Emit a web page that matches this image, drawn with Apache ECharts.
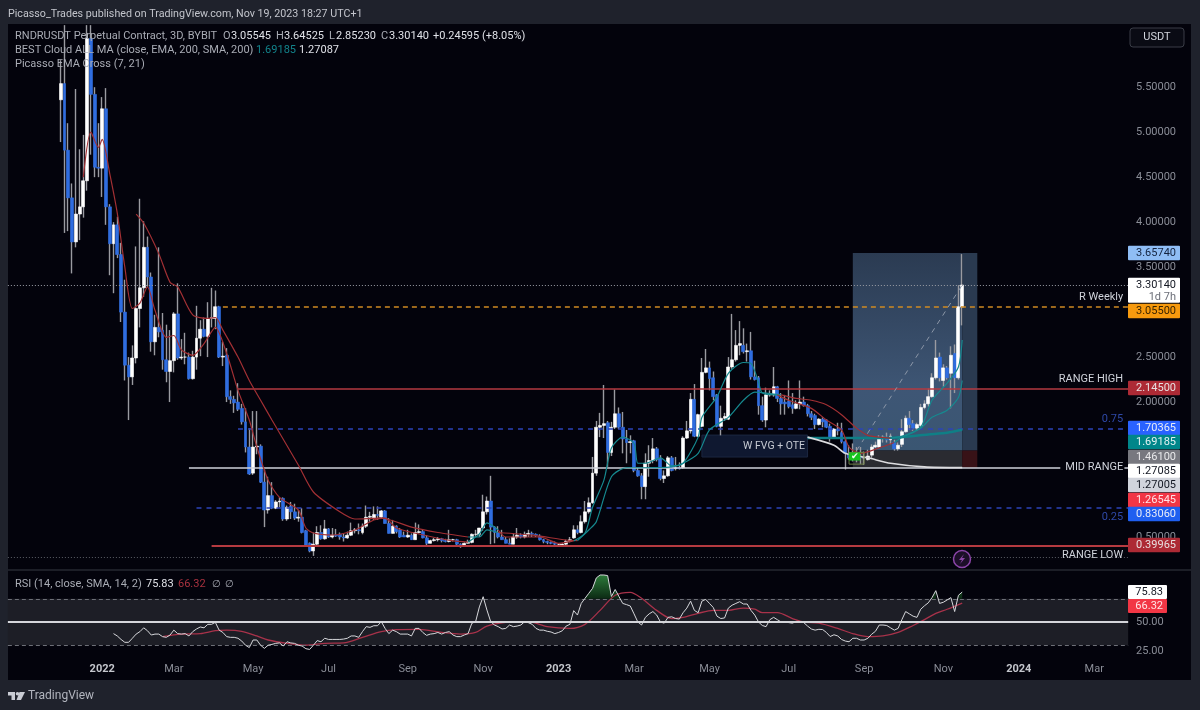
<!DOCTYPE html>
<html>
<head>
<meta charset="utf-8">
<title>RNDRUSDT 3D</title>
<script src="https://cdn.jsdelivr.net/npm/echarts@6/dist/echarts.min.js"></script>
<style>
  html, body { margin: 0; padding: 0; background: #1f222c; }
  #container { width: 1200px; height: 710px; }
</style>
</head>
<body>
<div id="container"></div>
<script>
// 3D candles, newest bar opened 2023-11-18. [open, close, low, high]
var candles = [
  [5.36,5.54,4.89,5.80],[5.54,4.80,3.88,6.19],[4.80,4.27,3.90,5.10],[4.27,3.78,3.43,4.43],[3.78,4.09,3.72,5.48],
  [4.09,4.17,3.80,4.81],[4.17,4.46,4.05,4.97],[4.46,6.04,4.35,6.19],[6.04,5.42,4.75,6.19],[5.42,4.61,4.50,5.50],
  [4.61,4.60,4.50,5.10],[4.60,5.26,4.28,5.39],[5.26,4.17,3.97,5.49],[4.17,3.76,3.41,4.20],[3.76,3.97,3.21,4.00],
  [3.97,3.64,3.60,4.06],[3.64,3.00,2.89,3.77],[3.00,2.41,2.24,3.36],[2.41,2.28,1.80,2.50],[2.28,2.49,2.19,2.63],
  [2.49,3.04,2.43,3.73],[3.04,3.27,2.83,4.26],[3.27,3.72,3.17,4.01],[3.72,3.39,3.28,3.84],[3.39,2.67,2.56,3.44],
  [2.67,2.83,2.52,2.97],[2.83,2.78,2.72,3.72],[2.80,2.47,2.36,2.99],[2.47,2.34,2.22,2.86],[2.34,2.46,2.00,2.80],
  [2.46,2.98,2.33,3.00],[2.98,2.49,2.47,3.32],[2.49,2.50,2.47,2.70],[2.50,2.50,2.42,2.77],[2.50,2.26,2.25,2.55],
  [2.26,2.50,2.25,2.57],[2.50,2.71,2.36,3.07],[2.71,2.81,2.51,2.91],[2.81,2.73,2.72,2.94],[2.73,2.93,2.50,3.11],
  [2.93,2.94,2.83,3.27],[2.93,3.06,2.81,3.24],[3.06,2.50,2.49,3.07],[2.50,2.51,2.40,2.67],[2.52,2.06,2.00,2.60],
  [2.06,2.03,1.98,2.13],[2.03,1.99,1.88,2.07],[2.00,1.92,1.90,2.21],[1.93,1.78,1.75,1.98],[1.78,1.50,1.44,1.93],
  [1.50,1.20,1.19,1.71],[1.21,1.50,1.19,1.90],[1.50,1.51,1.42,1.90],[1.51,1.11,1.10,1.53],[1.11,0.80,0.61,1.25],
  [0.80,0.96,0.76,1.17],[0.96,0.82,0.81,1.11],[0.82,0.89,0.81,0.91],[0.89,0.90,0.83,0.94],[0.93,0.70,0.68,0.94],
  [0.70,0.83,0.68,0.85],[0.84,0.78,0.70,0.89],[0.78,0.71,0.69,0.87],[0.71,0.72,0.67,0.80],[0.72,0.55,0.54,0.82],
  [0.57,0.40,0.39,0.58],[0.43,0.345,0.33,0.44],[0.345,0.42,0.29,0.55],[0.42,0.55,0.41,0.62],[0.55,0.48,0.47,0.63],
  [0.48,0.59,0.47,0.69],[0.59,0.50,0.49,0.60],[0.50,0.52,0.485,0.60],[0.52,0.51,0.50,0.59],[0.53,0.50,0.47,0.55],
  [0.50,0.49,0.45,0.54],[0.49,0.52,0.48,0.56],[0.52,0.57,0.51,0.66],[0.57,0.58,0.54,0.60],[0.58,0.57,0.53,0.65],
  [0.55,0.62,0.53,0.65],[0.62,0.72,0.60,0.85],[0.72,0.73,0.67,0.78],[0.71,0.75,0.69,0.84],[0.75,0.74,0.69,0.84],
  [0.72,0.79,0.71,0.80],[0.79,0.65,0.65,0.80],[0.65,0.54,0.54,0.71],[0.54,0.62,0.54,0.69],[0.62,0.56,0.54,0.63],
  [0.58,0.50,0.49,0.60],[0.52,0.50,0.50,0.56],[0.50,0.52,0.49,0.58],[0.52,0.47,0.467,0.54],[0.47,0.55,0.467,0.66],
  [0.55,0.56,0.54,0.64],[0.56,0.49,0.485,0.58],[0.49,0.43,0.40,0.52],[0.43,0.46,0.43,0.47],[0.46,0.47,0.45,0.49],
  [0.47,0.48,0.45,0.50],[0.48,0.46,0.44,0.49],[0.46,0.45,0.44,0.48],[0.45,0.47,0.44,0.58],[0.47,0.47,0.45,0.48],
  [0.47,0.42,0.41,0.48],[0.42,0.41,0.38,0.43],[0.41,0.43,0.41,0.44],[0.43,0.44,0.43,0.47],[0.44,0.53,0.43,0.54],
  [0.53,0.53,0.50,0.58],[0.53,0.60,0.50,0.60],[0.60,0.78,0.57,0.97],[0.78,0.90,0.75,0.95],[0.90,0.61,0.42,1.18],
  [0.61,0.55,0.43,0.62],[0.55,0.50,0.485,0.62],[0.50,0.47,0.47,0.58],[0.47,0.43,0.43,0.50],[0.43,0.42,0.42,0.485],
  [0.42,0.50,0.42,0.54],[0.50,0.52,0.48,0.60],[0.52,0.50,0.485,0.54],[0.50,0.53,0.485,0.56],[0.53,0.54,0.50,0.58],
  [0.54,0.53,0.50,0.56],[0.53,0.52,0.50,0.54],[0.51,0.47,0.46,0.53],[0.47,0.45,0.43,0.48],[0.45,0.44,0.42,0.46],
  [0.44,0.43,0.42,0.45],[0.43,0.42,0.41,0.45],[0.42,0.42,0.41,0.43],[0.41,0.42,0.40,0.43],[0.42,0.45,0.41,0.47],
  [0.45,0.47,0.44,0.50],[0.49,0.58,0.48,0.63],[0.58,0.55,0.53,0.63],[0.55,0.67,0.54,0.74],[0.67,0.78,0.65,0.90],
  [0.78,0.88,0.76,0.94],[0.88,1.21,0.87,1.39],[1.21,1.72,1.18,1.79],[1.72,1.74,1.61,1.88],[1.74,1.76,1.60,2.19],
  [1.77,1.44,1.28,1.79],[1.44,1.72,1.40,1.78],[1.72,1.87,1.70,2.14],[1.87,1.72,1.70,1.94],[1.72,1.59,1.43,1.89],
  [1.59,1.55,1.32,1.69],[1.55,1.56,1.43,1.63],[1.57,1.24,1.22,1.58],[1.24,1.18,1.17,1.27],[1.18,1.06,0.92,1.21],
  [1.06,1.32,0.92,1.43],[1.32,1.35,1.17,1.52],[1.35,1.48,1.32,1.60],[1.48,1.36,1.34,1.50],[1.37,1.15,1.13,1.41],
  [1.15,1.18,1.10,1.24],[1.18,1.38,1.17,1.40],[1.38,1.24,1.23,1.40],[1.26,1.27,1.24,1.39],[1.27,1.26,1.25,1.33],
  [1.27,1.60,1.26,1.62],[1.60,1.68,1.59,1.79],[1.68,2.03,1.65,2.10],[2.03,1.62,1.61,2.20],[1.62,1.86,1.61,1.87],
  [1.73,2.33,1.72,2.49],[2.33,2.38,2.32,2.59],[2.38,2.26,2.13,2.45],[2.27,2.06,2.02,2.34],[2.08,1.73,1.72,2.09],
  [1.73,1.82,1.63,1.96],[1.82,1.84,1.79,1.88],[1.81,2.39,1.80,2.50],[2.39,2.47,2.37,2.98],[2.47,2.63,2.45,2.80],
  [2.63,2.65,2.52,2.90],[2.63,2.56,2.54,2.82],[2.56,2.57,2.45,2.65],[2.57,2.28,2.25,2.78],[2.28,2.25,2.24,2.46],
  [2.27,1.96,1.86,2.29],[1.96,1.80,1.78,2.06],[1.80,2.08,1.72,2.16],[2.08,2.09,2.06,2.13],[2.08,2.17,2.06,2.39],
  [2.17,2.04,2.00,2.18],[2.04,1.98,1.86,2.10],[2.00,1.98,1.86,2.08],[2.01,1.95,1.93,2.24],[1.97,1.93,1.87,2.10],
  [1.93,1.98,1.92,2.02],[1.98,2.00,1.92,2.24],[2.00,1.96,1.95,2.06],[1.96,1.87,1.84,1.98],[1.87,1.83,1.80,1.90],
  [1.85,1.75,1.70,1.87],[1.75,1.81,1.74,1.82],[1.81,1.78,1.72,1.83],[1.80,1.72,1.71,1.81],[1.73,1.61,1.56,1.76],
  [1.61,1.70,1.59,1.71],[1.70,1.68,1.63,1.77],[1.66,1.56,1.54,1.77],[1.56,1.43,1.25,1.61],
  [1.43,1.38,1.36,1.52],[1.38,1.42,1.34,1.54],[1.42,1.40,1.33,1.50],[1.40,1.38,1.31,1.50],[1.38,1.38,1.30,1.45],
  [1.36,1.40,1.35,1.47],[1.41,1.50,1.38,1.53],[1.50,1.52,1.49,1.56],[1.50,1.60,1.49,1.63],[1.60,1.61,1.55,1.63],
  [1.61,1.58,1.55,1.66],[1.58,1.62,1.53,1.65],[1.55,1.48,1.46,1.58],[1.48,1.52,1.46,1.55],[1.53,1.67,1.50,1.81],
  [1.67,1.82,1.66,1.85],[1.82,1.75,1.69,1.90],[1.76,1.71,1.68,1.80],[1.71,1.75,1.69,1.77],[1.74,1.94,1.71,1.98],
  [1.94,1.98,1.92,2.02],[1.98,2.06,1.95,2.15],[2.06,2.27,2.05,2.32],[2.27,2.49,2.25,2.69],[2.50,2.27,2.23,2.55],
  [2.24,2.38,2.17,2.42],[2.38,2.27,2.25,2.40],[2.32,2.52,1.93,2.62],[2.54,2.27,2.10,2.64],[2.27,3.06,2.25,3.30],
  [3.05545,3.3014,2.8523,3.64525]
];

// RSI(14) from candle 14 on
var rsiStart = 14;
var rsiValues = [
  40,38,35,32.5,32.5,36,39.6,41.7,45,42.5,38.8,39.6,39.6,37.4,36.8,38.8,43,40,39.6,40,
  38,41.7,44,45.7,45,48,48,49.7,43,41,37.4,36.8,36.8,36,33.6,30,28,34.5,34.5,30,
  27.3,30,30.7,31.6,32,29.3,33,32,31.6,30,29.3,27,26.4,30,34,33,36,35,35,35,
  35,35.3,36,38,38,36.8,41.7,46,45.4,46.8,46.8,50.3,44.5,40,43,41.7,39.6,39.6,39.6,38,
  44.5,44.5,41,38.5,39.6,40,41,39.6,41,41.7,38.8,37.4,37.4,38.8,40,48.9,50.3,63,71.8,60.3,
  50.3,47.4,46,44,44.5,47.4,46,46.5,47.4,50.3,49.4,48,44.5,43,43,42,41.4,40,41,42.5,
  46.5,48,59.8,56,66,70.4,74.7,79,88,90.5,90.5,90,72,78,72,66,65,63.8,57,50,
  47.4,54,57,59,56,50,49,54,54.5,53,52.5,58,62,68,60,58,68,69.5,66,62.5,
  55,53,53.5,62,64.5,66,67.5,65.5,65.5,60,56,50,47,46,52,54,52,50,50,49.5,
  49,50.5,50.5,49.5,46.5,44,43,43.7,43.5,41,37.5,39,38,35,33.6,33,36,36,34.5,34.5,
  36,39.5,42,47.4,47.4,47,45,43,44.5,52,59,57,55,54,61,64,66.5,71,77,66,
  67,69,71,59,73,75.83
];
var rsiMaPoints = [
  [27,37.4],[32,39.6],[37,40],[41,42.5],[44,43],[48,42],[52,38],[55,34.5],[60,31.6],[65,30],[70,31.6],[75,32],
  [80,36.8],[85,41.7],[89,43.4],[95,43.7],[101,41],[106,39.6],[110,41],[113,46.5],[118,49.7],[124,50.3],[129,46],
  [135,44.5],[139,48],[143,60],[147,73],[151,75.6],[154,70.4],[158,60],[162,53],[165,54],[169,57.5],[173,60],
  [177,60],[181,62],[184,61],[186,58],[190,58],[194,53],[197,50],[201,49],[206,44.5],[210,40],[214,37.4],
  [218,38],[222,41],[226,47],[229,52],[232,57.5],[235,61],[239,66.32]
];

// moving averages as [candle, price], red while bearish, teal while bullish
var ema21Bear1 = [[20,4.09],[22,3.99],[26,3.65],[29,3.33],[31,3.28],[35,2.97],[39,2.93],[41,2.94],[43,2.8],[47,2.5],[50,2.24],[53,2.02],[56,1.8],[63,1.3],[67,1.0],[74,0.78],[78,0.7],[85,0.71],[93,0.61],[100,0.55],[108,0.5]];
var ema21Bull1 = [[108,0.5],[111,0.5],[113,0.58],[116,0.55]];
var ema21Bear2 = [[116,0.55],[125,0.52],[134,0.467],[137,0.46]];
var ema21Bull2 = [[137,0.46],[140,0.578],[142,0.67],[146,1.17],[150,1.27],[154,1.27],[162,1.28],[165,1.32],[169,1.43],[172,1.69],[177,1.83],[181,2.02],[184,2.11],[187,2.1],[191,2.08]];
var ema21Bear3 = [[191,2.08],[195,2.04],[199,2.02],[203,1.97],[207,1.86],[211,1.71],[214,1.63],[217,1.61],[220,1.6]];
var ema21Bull3 = [[220,1.6],[224,1.63],[228,1.71],[231,1.83],[235,1.91],[238,2.05],[239,2.24]];
var ema7Bear1 = [[6,4.5],[8,5.0],[10,4.83],[11,4.92],[13,4.54],[15,4.1],[17,3.5],[19,3.04],[21,3.1],[23,3.28],[25,3.02],[28,2.72],[30,2.74],[32,2.58],[35,2.52],[38,2.65],[41,2.83],[44,2.54],[47,2.13],[50,1.8],[52,1.5],[55,1.13],[58,0.94],[63,0.8],[65,0.6],[67,0.544],[72,0.522],[78,0.578],[83,0.689],[86,0.71],[89,0.6],[95,0.533],[104,0.456],[108,0.444]];
var ema7Bull1 = [[108,0.444],[111,0.533],[113,0.656],[116,0.578]];
var ema7Bear2 = [[116,0.578],[118,0.5],[127,0.5],[132,0.43],[136,0.456]];
var ema7Bull2 = [[136,0.456],[139,0.544],[141,0.83],[144,1.13],[146,1.49],[149,1.61],[152,1.54],[153,1.32],[155,1.32],[159,1.38],[162,1.29],[165,1.32],[169,1.61],[170,1.83],[174,2.06],[177,2.32],[181,2.44],[183,2.43],[185,2.22],[186,2.1],[190,2.08]];
var ema7Bear3 = [[190,2.08],[193,2.02],[199,1.93],[203,1.8],[207,1.69],[209,1.5],[212,1.43],[217,1.49],[221,1.55]];
var ema7Bull3 = [[221,1.55],[223,1.61],[228,1.72],[231,2.02],[235,2.21],[238,2.39],[239,2.69]];
var ema200Points = [[198,1.6],[205,1.6],[215,1.6],[223,1.61],[230,1.64],[235,1.66],[239,1.69185]];
var sma200Points = [[198,1.61],[205,1.52],[208,1.43],[214,1.38],[220,1.32],[229,1.28],[239,1.27087]];

// horizontal levels, first axis slot each one starts at
var levelNames = ['R Weekly', 'RANGE HIGH', '0.75', 'MID RANGE', '0.25', 'RANGE LOW'];
var levelValues = [3.055, 2.145, 1.70365, 1.27085, 0.8306, 0.39965];
var levelStarts = [57, 61, 61, 48, 50, 54];

var priceTicks = [0.5, 2, 2.5, 3.5, 4, 4.5, 5, 5.5];
var rsiTicks = [25, 50];
var priceTags = ['3.65740', '3.30140', '3.05500', '2.14500', '1.70365', '1.69185', '1.46100', '1.27085', '1.27005', '1.26545', '0.83060', '0.39965'];
var priceTagFills = ['#8fbdf5', '#ffffff', '#f79a0e', '#ad2a35', '#2962ff', '#00868a', '#77787f', '#ffffff', '#d1d4dc', '#f23645', '#1f5ff0', '#ad2a35'];
var priceTagInks = ['#14233f', '#131722', '#3a2400', '#e8dfe0', '#e8ecf8', '#e3f2f2', '#e8e8ea', '#131722', '#131722', '#ffe4e6', '#e8ecf8', '#e8dfe0'];
var priceTagCentres = [253, 285, 311, 388, 428, 442, 457, 471, 485, 500, 514, 545];

// axis slots: one per 3D bar, the newest bar is slot 253
var slotCount = 298, firstCandleSlot = 14;
var dates = [], lastBar = Date.UTC(2023, 10, 18);
for (var s = 0; s < slotCount; s++) {
    dates.push(new Date(lastBar + (s - 253) * 3 * 86400000));
}
var monthNames = ['Jan', 'Feb', 'Mar', 'Apr', 'May', 'Jun', 'Jul', 'Aug', 'Sep', 'Oct', 'Nov', 'Dec'];
function isMonthStart(i) {
    var d = dates[i];
    return i >= 25 && d.getUTCDate() <= 3 && d.getUTCMonth() % 2 === 0;
}

function pad(rows, empty, count) {
    var out = [];
    for (var i = 0; i < count; i++) { out.push(empty); }
    return out.concat(rows);
}
function toSlots(points) {
    return points.map(function (p) { return [p[0] + firstCandleSlot, p[1]]; });
}

var RED = '#a23034', TEAL = '#16898f', FONT = 'Roboto, sans-serif';

function lineOn(name, points, color, width, z) {
    return {
        name: name, type: 'line', xAxisIndex: 0, yAxisIndex: 0, data: toSlots(points), smooth: 0.25,
        showSymbol: false, silent: true, z: z || 6, lineStyle: { color: color, width: width || 1.2 }
    };
}

var rsiPadded = pad(rsiValues, '-', firstCandleSlot + rsiStart);
var rsiOver = rsiPadded.map(function (v) { return v !== '-' && v >= 70 ? v : '-'; });

var levelStyles = [
    { color: '#d08a22', type: [5, 4], width: 1.5, pos: 'insideEndTop', ink: '#cfd2da' },
    { color: '#b53a40', type: 'solid', width: 1.5, pos: 'insideEndTop', ink: '#cfd2da' },
    { color: '#2c44b8', type: [5, 5], width: 1.5, pos: 'insideEndTop', ink: '#2f49a8' },
    { color: '#cfd2da', type: 'solid', width: 1.5, pos: 'end', ink: '#cfd2da' },
    { color: '#2c44b8', type: [5, 5], width: 1.5, pos: 'insideEndBottom', ink: '#2f49a8' },
    { color: '#b53a40', type: 'solid', width: 1.8, pos: 'insideEndBottom', ink: '#cfd2da' }
];
var levelLines = levelNames.map(function (name, i) {
    var st = levelStyles[i];
    var endSlot = name === 'MID RANGE' ? 279 : 297;
    return [{
        coord: [levelStarts[i], levelValues[i]],
        lineStyle: { color: st.color, type: st.type, width: st.width },
        label: {
            show: true, position: st.pos, formatter: name, color: st.ink, fontSize: 11, fontFamily: FONT,
            distance: name === 'MID RANGE' ? 5 : [5, 4]
        }
    }, { coord: [endSlot, levelValues[i]] }];
});

var extraLines = [
    [{ coord: [296, 1.27085], lineStyle: { color: '#cfd2da', type: 'solid', width: 1.5 }, label: { show: false } }, { coord: [297, 1.27085] }],
    [{ coord: [0, 3.3014], lineStyle: { color: '#9a9da5', type: [1, 2], width: 1 }, label: { show: false } }, { coord: [297, 3.3014] }],
    [{ coord: [0, 0.28], lineStyle: { color: '#5b5e66', type: [1, 2], width: 1 }, label: { show: false } }, { coord: [297, 0.28] }],
    [{ coord: [225, 1.461], lineStyle: { color: '#8c97a8', type: [5, 5], width: 1 }, label: { show: false } }, { coord: [253, 3.3014] }]
];

var profitFill = { type: 'linear', x: 0, y: 0, x2: 0, y2: 1, colorStops: [{ offset: 0, color: '#2b3b52' }, { offset: 0.7, color: '#3e5675' }, { offset: 1, color: '#3a5672' }] };
var toolAreas = [
    [{ coord: [224, 3.6574], itemStyle: { color: profitFill } }, { coord: [253, 1.461] }],
    [{ coord: [253, 3.6574], itemStyle: { color: '#2a3a50' } }, { coord: [257, 1.461] }],
    [{ coord: [224, 1.461], itemStyle: { color: '#2a2b31' } }, { coord: [253, 1.27] }],
    [{ coord: [253, 1.461], itemStyle: { color: '#381217' } }, { coord: [257, 1.27] }],
    [{ coord: [184, 1.633], itemStyle: { color: '#0f1830', borderColor: '#1c2740', borderWidth: 1 },
       label: { show: true, position: 'insideRight', formatter: 'W FVG + OTE', color: '#c6cad2', fontSize: 10.5, fontFamily: FONT, distance: 3 } },
     { coord: [212, 1.389] }]
];
var signalAreas = [
    [{ coord: [223, 1.44], itemStyle: { color: 'rgba(0,0,0,0)', borderColor: '#6d7f45', borderWidth: 1 } }, { coord: [227, 1.31] }],
    [{ coord: [223, 1.44], itemStyle: { color: '#16c41e' },
       label: { show: true, position: 'inside', formatter: '\u2714', color: '#f0fff0', fontSize: 9 } },
     { coord: [226, 1.35] }]
];

var option = {
    backgroundColor: '#1f222c',
    animation: false,
    textStyle: { fontFamily: FONT },
    grid: [
        { left: 6, top: 24, width: 1124.06, height: 546 },
        { left: 6, top: 570, width: 1124.06, height: 88 }
    ],
    xAxis: [
        { type: 'category', gridIndex: 0, data: dates.map(String), show: false },
        {
            type: 'category', gridIndex: 1, data: dates.map(String),
            axisLine: { show: false }, axisTick: { show: false }, splitLine: { show: false },
            axisLabel: {
                interval: function (i) { return isMonthStart(i); },
                formatter: function (v, i) {
                    var d = dates[i];
                    return d.getUTCMonth() === 0 ? '{year|' + d.getUTCFullYear() + '}' : monthNames[d.getUTCMonth()];
                },
                color: '#8a8d97', fontSize: 11, margin: 6,
                rich: { year: { color: '#c4c6cc', fontWeight: 'bold', fontSize: 11 } }
            }
        }
    ],
    yAxis: [
        {
            type: 'value', gridIndex: 0, position: 'right', min: 0.1332, max: 6.2025, scale: true,
            axisLine: { show: false }, axisTick: { show: false }, splitLine: { show: false },
            axisLabel: { customValues: priceTicks, color: '#8a8d97', fontSize: 11, margin: 6, formatter: function (v) { return v.toFixed(5); } }
        },
        {
            type: 'value', gridIndex: 1, position: 'right', min: 19, max: 94.8, scale: true,
            axisLine: { show: false }, axisTick: { show: false }, splitLine: { show: false },
            axisLabel: { customValues: rsiTicks, color: '#8a8d97', fontSize: 11, margin: 6, formatter: function (v) { return v.toFixed(2); } }
        }
    ],
    series: [
        {
            name: 'Levels', type: 'line', xAxisIndex: 0, yAxisIndex: 0, data: [], z: 1, silent: true,
            markArea: { silent: true, data: toolAreas },
            markLine: { silent: true, symbol: 'none', animation: false, data: levelLines.concat(extraLines) }
        },
        {
            name: 'RNDRUSDT wicks', type: 'candlestick', xAxisIndex: 0, yAxisIndex: 0, barWidth: 1,
            data: pad(candles, ['-', '-', '-', '-'], firstCandleSlot), z: 3, silent: true,
            itemStyle: { color: '#9a9ba1', color0: '#9a9ba1', borderColor: '#9a9ba1', borderColor0: '#9a9ba1', borderWidth: 1.4 }
        },
        {
            name: 'RNDRUSDT', type: 'candlestick', xAxisIndex: 0, yAxisIndex: 0, barWidth: 3.4,
            data: pad(candles.map(function (c) {
                return [c[0], c[1], Math.min(c[0], c[1]), Math.max(c[0], c[1])];
            }), ['-', '-', '-', '-'], firstCandleSlot), z: 4, silent: true,
            itemStyle: { color: '#ffffff', color0: '#2f6de0', borderColor: '#ffffff', borderColor0: '#2f6de0', borderWidth: 0.6 }
        },
        lineOn('EMA 200', ema200Points, '#0f7f86', 2.5, 5),
        lineOn('SMA 200', sma200Points, '#dcdcdf', 1.6, 5),
        lineOn('EMA 21', ema21Bear1, RED), lineOn('EMA 21', ema21Bull1, TEAL), lineOn('EMA 21', ema21Bear2, RED),
        lineOn('EMA 21', ema21Bull2, TEAL), lineOn('EMA 21', ema21Bear3, RED), lineOn('EMA 21', ema21Bull3, TEAL),
        lineOn('EMA 7', ema7Bear1, RED), lineOn('EMA 7', ema7Bull1, TEAL), lineOn('EMA 7', ema7Bear2, RED),
        lineOn('EMA 7', ema7Bull2, TEAL), lineOn('EMA 7', ema7Bear3, RED), lineOn('EMA 7', ema7Bull3, TEAL),
        {
            name: 'Signal', type: 'line', xAxisIndex: 0, yAxisIndex: 0, data: [], z: 8, silent: true,
            markArea: { silent: true, z: 8, data: signalAreas }
        },
        {
            name: 'RSI band', type: 'line', xAxisIndex: 1, yAxisIndex: 1, data: [], z: 1, silent: true,
            markArea: { silent: true, data: [[{ coord: [0, 70], itemStyle: { color: '#1d1e26' } }, { coord: [297, 30] }]] },
            markLine: {
                silent: true, symbol: 'none', animation: false, label: { show: false },
                data: [
                    [{ coord: [0, 70], lineStyle: { color: '#6d6f77', type: [4, 3], width: 1 } }, { coord: [297, 70] }],
                    [{ coord: [0, 30], lineStyle: { color: '#6d6f77', type: [4, 3], width: 1 } }, { coord: [297, 30] }],
                    [{ coord: [0, 50], lineStyle: { color: '#d4d5da', type: 'solid', width: 1.8 } }, { coord: [297, 50] }]
                ]
            }
        },
        {
            name: 'RSI overbought', type: 'line', xAxisIndex: 1, yAxisIndex: 1, data: rsiOver, showSymbol: false, silent: true, z: 2,
            lineStyle: { width: 0 },
            areaStyle: {
                origin: 70, opacity: 1,
                color: { type: 'linear', x: 0, y: 0, x2: 0, y2: 1, colorStops: [{ offset: 0, color: '#2c7a3a' }, { offset: 1, color: '#0c2a14' }] }
            }
        },
        {
            name: 'RSI MA', type: 'line', xAxisIndex: 1, yAxisIndex: 1, data: toSlots(rsiMaPoints), smooth: 0.3,
            showSymbol: false, silent: true, z: 4, lineStyle: { color: '#a8324a', width: 1.3 }
        },
        {
            name: 'RSI', type: 'line', xAxisIndex: 1, yAxisIndex: 1, data: rsiPadded,
            showSymbol: false, silent: true, z: 5, lineStyle: { color: '#d6d7db', width: 1 }
        }
    ],
    graphic: buildOverlay()
};

function label(x, y, text, fill, size, align, weight) {
    return {
        type: 'text', silent: true, z: 30,
        style: {
            x: x, y: y, text: text, fill: fill, align: align || 'left', verticalAlign: 'middle',
            font: (weight || 'normal') + ' ' + (size || 11) + 'px ' + FONT
        }
    };
}
function box(x, y, w, h, fill, z, r) {
    return { type: 'rect', silent: true, z: z, shape: { x: x, y: y, width: w, height: h, r: r || 0 }, style: { fill: fill } };
}
function poly(points, fill) {
    return { type: 'polygon', silent: true, z: 31, shape: { points: points }, style: { fill: fill } };
}

function buildOverlay() {
    var grey = '#a9acb5', bright = '#dfe1e7';
    var items = [
        box(8, 24, 1183, 656, '#03030c', -10),
        box(8, 569, 1183, 2, '#1c1e27', 20),
        label(8, 14, 'Picasso_Trades published on TradingView.com, Nov 19, 2023 18:27 UTC+1', '#c3c5cc', 10.7),
        label(15, 36, 'RNDRUSDT Perpetual Contract, 3D, BYBIT', grey, 11),
        label(223, 36, 'O', grey, 11), label(231, 36, '3.05545', bright, 11),
        label(276, 36, 'H', grey, 11), label(284, 36, '3.64525', bright, 11),
        label(329, 36, 'L', grey, 11), label(336, 36, '2.85230', bright, 11),
        label(381, 36, 'C', grey, 11), label(389, 36, '3.30140', bright, 11),
        label(433, 36, '+0.24595 (+8.05%)', bright, 11),
        label(15, 50, 'BEST Cloud ALL MA (close, EMA, 200, SMA, 200)', grey, 11),
        label(256, 50, '1.69185', '#13848c', 11), label(299, 50, '1.27087', bright, 11),
        label(15, 64, 'Picasso EMA Cross (7, 21)', grey, 11),
        label(15, 584, 'RSI (14, close, SMA, 14, 2)', grey, 11),
        label(146, 584, '75.83', bright, 11), label(178, 584, '66.32', '#a8323f', 11),
        label(212, 584, '\u2205', grey, 10), label(225, 584, '\u2205', grey, 10),
        { type: 'rect', silent: true, z: 30, shape: { x: 1130, y: 28, width: 54, height: 19, r: 3 }, style: { fill: '#0a0b14', stroke: '#3a3d47', lineWidth: 1 } },
        label(1157, 37.5, 'USDT', '#d1d4dc', 11, 'center'),
        label(28, 696, 'TradingView', '#b2b5be', 12),
        poly([[8, 692], [15, 692], [15, 700], [11.5, 700], [11.5, 695.5], [8, 695.5]], '#c9ccd4'),
        { type: 'circle', silent: true, z: 31, shape: { cx: 17.5, cy: 693.8, r: 1.8 }, style: { fill: '#c9ccd4' } },
        poly([[19.5, 692], [25, 692], [21, 700], [16.5, 700]], '#c9ccd4'),
        { type: 'circle', silent: true, z: 30, shape: { cx: 962, cy: 559, r: 8.5 }, style: { fill: '#1c0f28', stroke: '#8b45a8', lineWidth: 1.5 } },
        poly([[964, 554], [959, 560], [962, 560], [960, 564], [965, 558], [962, 558]], '#8b45a8')
    ];
    priceTags.forEach(function (t, i) {
        var cy = priceTagCentres[i], top = cy - 7.2, h = 14.4;
        if (t === '3.30140') { h = 25; }
        items.push(box(1128, top, 52, h, priceTagFills[i], 25, 1));
        items.push(label(1176, cy, t, priceTagInks[i], 11, 'right'));
    });
    items.push(label(1176, 297, '1d 7h', '#6b6e78', 11, 'right'));
    items.push(box(1128, 585, 39, 14, '#ffffff', 25, 1));
    items.push(label(1163, 592, '75.83', '#131722', 11, 'right'));
    items.push(box(1128, 599, 39, 14, '#f23645', 25, 1));
    items.push(label(1163, 606, '66.32', '#ffe4e6', 11, 'right'));
    return items;
}

var dom = document.getElementById('container');
var myChart = echarts.init(dom, null, { renderer: 'canvas' });
myChart.setOption(option);
window.addEventListener('resize', myChart.resize);
</script>
</body>
</html>
